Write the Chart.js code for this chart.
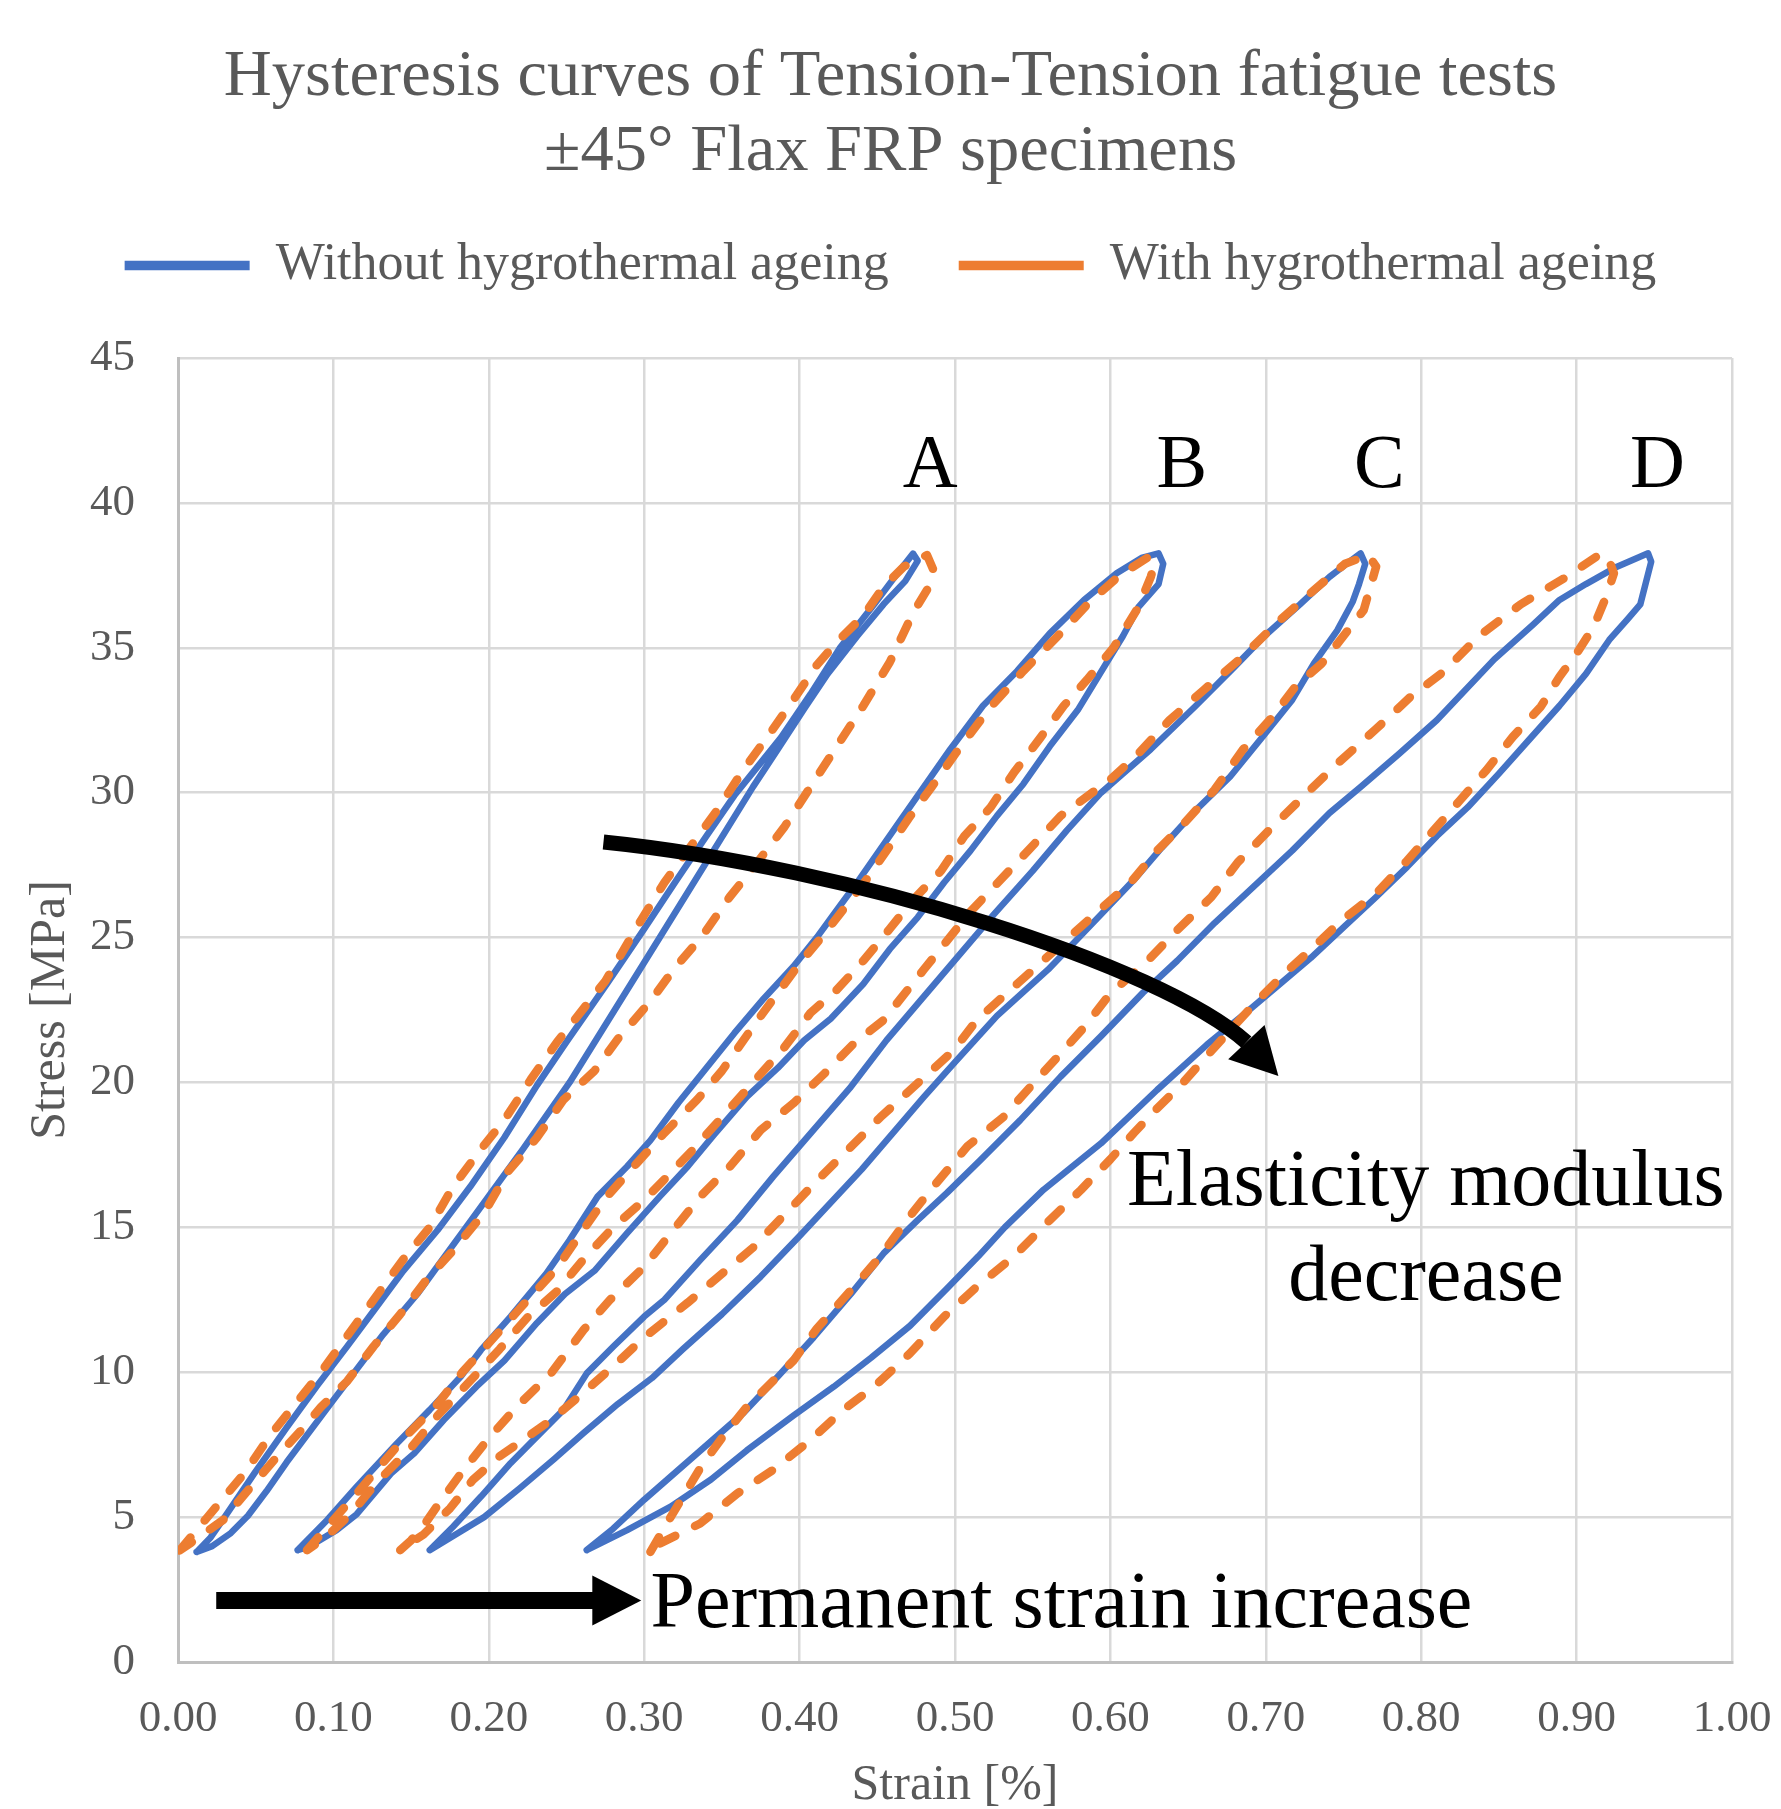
<!DOCTYPE html>
<html>
<head>
<meta charset="utf-8">
<title>Hysteresis curves of Tension-Tension fatigue tests</title>
<script src="https://cdn.jsdelivr.net/npm/chart.js@4.4.1/dist/chart.umd.min.js"></script>
<style>
  html, body { margin: 0; padding: 0; background: #ffffff; }
  canvas { display: block; }
</style>
</head>
<body>
<canvas id="hysteresisChart" width="1781" height="1809"></canvas>
<script>
// Series names (legend)
const seriesNames = ['Without hygrothermal ageing', 'With hygrothermal ageing'];

// Axis ticks
const strainTicks = [0, 0.1, 0.2, 0.3, 0.4, 0.5, 0.6, 0.7, 0.8, 0.9, 1.0];
const stressTicks = [0, 5, 10, 15, 20, 25, 30, 35, 40, 45];

// Loops: [strain %, stress MPa], bottom -> up -> peak -> back down
const withoutA = [
  [0.012,3.80],[0.021,4.30],[0.030,5.00],[0.049,6.50],[0.070,8.10],[0.089,9.50],[0.109,10.90],[0.127,12.20],
  [0.145,13.50],[0.167,14.90],[0.188,16.40],[0.210,18.10],[0.231,19.90],[0.250,21.40],[0.276,23.40],[0.300,25.30],
  [0.321,27.00],[0.340,28.50],[0.358,29.90],[0.373,30.90],[0.388,31.90],[0.407,33.40],[0.426,35.00],[0.448,36.50],
  [0.462,37.50],[0.473,38.25],
  [0.476,38.00],[0.468,37.30],[0.454,36.50],[0.437,35.40],[0.418,34.10],[0.403,32.90],[0.386,31.50],[0.370,30.20],
  [0.340,27.60],[0.310,25.00],[0.281,22.50],[0.252,20.00],[0.222,17.70],[0.188,15.20],[0.154,12.70],[0.132,11.30],
  [0.098,8.90],[0.070,6.90],[0.057,5.90],[0.045,5.05],[0.034,4.45],[0.022,4.00],[0.012,3.80]
];
const withA = [
  [0.001,3.85],[0.008,4.30],[0.019,5.00],[0.044,6.60],[0.059,7.80],[0.074,8.80],[0.092,10.00],[0.115,11.70],
  [0.145,13.90],[0.162,15.00],[0.177,16.40],[0.195,17.70],[0.210,18.70],[0.227,20.10],[0.244,21.40],[0.275,23.50],
  [0.298,25.60],[0.313,26.90],[0.332,28.30],[0.347,29.40],[0.364,30.80],[0.379,31.90],[0.396,33.20],[0.411,34.40],
  [0.424,35.20],[0.441,36.10],[0.454,37.10],[0.467,37.80],[0.482,38.20],
  [0.486,37.70],[0.482,37.00],[0.473,36.20],[0.458,34.50],[0.441,33.00],[0.424,31.60],[0.407,30.20],[0.390,28.80],
  [0.370,27.40],[0.355,26.40],[0.338,25.10],[0.319,23.90],[0.304,22.80],[0.283,21.50],[0.268,20.40],[0.248,19.40],
  [0.231,18.10],[0.212,16.90],[0.197,15.50],[0.177,14.20],[0.160,13.20],[0.143,12.00],[0.126,10.90],[0.109,9.70],
  [0.092,8.80],[0.081,8.10],[0.064,7.10],[0.047,6.05],[0.029,4.90],[0.008,4.10],[0.001,3.85]
];
const withoutB = [
  [0.077,3.86],[0.096,4.90],[0.115,6.05],[0.141,7.55],[0.162,8.70],[0.182,9.85],[0.195,10.77],[0.214,11.92],
  [0.237,13.40],[0.252,14.56],[0.270,16.06],[0.289,17.10],[0.304,18.00],[0.322,19.30],[0.340,20.50],[0.358,21.70],
  [0.377,22.90],[0.396,24.00],[0.411,25.00],[0.424,25.95],[0.437,26.90],[0.450,27.90],[0.465,29.05],
  [0.480,30.20],[0.497,31.50],[0.518,33.00],[0.540,34.20],[0.561,35.50],[0.583,36.65],[0.604,37.57],[0.620,38.10],
  [0.631,38.26],
  [0.634,37.90],[0.631,37.20],[0.618,36.40],[0.608,35.40],[0.600,34.70],[0.579,32.85],[0.561,31.60],[0.544,30.30],
  [0.527,29.20],[0.510,28.00],[0.493,26.90],[0.476,25.70],[0.458,24.60],[0.441,23.40],[0.420,22.20],[0.403,21.46],
  [0.386,20.50],[0.366,19.50],[0.345,18.20],[0.328,17.10],[0.310,16.06],[0.289,14.80],[0.268,13.50],[0.249,12.70],
  [0.231,11.70],[0.210,10.40],[0.192,9.50],[0.171,8.35],[0.152,7.20],[0.137,6.50],[0.115,5.10],[0.102,4.55],
  [0.085,4.00],[0.077,3.86]
];
const withB = [
  [0.083,3.86],[0.100,4.90],[0.118,6.00],[0.145,7.70],[0.167,8.90],[0.183,10.00],[0.200,11.00],[0.220,12.20],
  [0.244,13.60],[0.258,14.70],[0.275,16.00],[0.295,17.20],[0.312,18.20],[0.334,19.40],[0.350,20.40],[0.373,22.15],
  [0.400,24.10],[0.417,25.20],[0.430,26.10],[0.443,27.00],[0.456,28.00],[0.470,29.10],[0.485,30.20],[0.501,31.40],
  [0.522,32.90],[0.544,34.20],[0.566,35.40],[0.587,36.60],[0.606,37.50],[0.625,38.15],
  [0.628,37.80],[0.626,37.45],[0.618,36.40],[0.602,35.00],[0.585,33.90],[0.570,33.00],[0.555,31.90],[0.538,30.70],
  [0.523,29.50],[0.506,28.50],[0.491,27.30],[0.473,26.30],[0.458,25.30],[0.441,24.20],[0.424,23.20],[0.407,22.40],
  [0.390,21.20],[0.370,20.00],[0.350,18.80],[0.330,17.60],[0.312,16.60],[0.300,15.94],[0.280,15.00],[0.261,13.90],
  [0.244,12.80],[0.225,11.90],[0.207,10.80],[0.188,9.70],[0.167,8.50],[0.150,7.40],[0.128,6.20],[0.111,5.10],
  [0.095,4.30],[0.083,3.86]
];
const withoutC = [
  [0.162,3.86],[0.177,4.67],[0.195,5.71],[0.214,6.86],[0.233,7.89],[0.248,8.70],[0.263,9.96],[0.280,10.88],
  [0.300,11.92],[0.313,12.50],[0.336,13.87],[0.360,15.25],[0.383,16.75],[0.409,18.36],[0.433,19.85],[0.456,21.46],
  [0.467,22.15],[0.498,24.10],[0.525,25.80],[0.550,27.30],[0.572,28.70],[0.594,30.00],[0.626,31.50],[0.655,33.00],
  [0.680,34.35],[0.699,35.40],[0.722,36.50],[0.741,37.45],[0.752,37.90],[0.761,38.26],
  [0.764,37.90],[0.760,37.20],[0.756,36.60],[0.746,35.60],[0.731,34.46],[0.717,33.20],[0.699,32.00],[0.677,30.55],
  [0.655,29.40],[0.633,28.10],[0.617,27.10],[0.594,25.80],[0.560,23.90],[0.527,22.30],[0.500,20.70],[0.480,19.50],
  [0.440,17.00],[0.400,14.70],[0.375,13.30],[0.350,12.00],[0.325,10.80],[0.305,9.80],[0.283,8.90],[0.261,7.90],
  [0.242,7.00],[0.220,6.00],[0.197,5.00],[0.180,4.44],[0.162,3.86]
];
const withC = [
  [0.143,3.86],[0.150,4.20],[0.158,4.70],[0.167,5.40],[0.182,6.50],[0.199,7.66],[0.218,8.81],[0.240,9.96],
  [0.261,11.46],[0.278,12.50],[0.300,13.64],[0.317,14.79],[0.336,16.06],[0.355,17.09],[0.375,18.36],[0.396,19.28],
  [0.416,20.31],[0.435,21.35],[0.454,22.15],[0.480,23.90],[0.510,25.90],[0.540,27.60],[0.568,29.20],[0.601,30.50],
  [0.618,31.35],[0.638,32.50],[0.660,33.54],[0.685,34.69],[0.708,35.90],[0.731,36.99],[0.751,37.90],[0.766,38.20],
  [0.771,37.80],[0.763,36.30],[0.744,35.00],[0.736,34.46],[0.719,33.66],[0.704,32.60],[0.685,31.47],[0.667,30.10],
  [0.645,28.80],[0.630,28.00],[0.613,26.90],[0.594,26.00],[0.565,24.60],[0.540,23.40],[0.514,22.15],[0.499,21.10],
  [0.452,18.80],[0.411,16.60],[0.370,14.30],[0.328,12.40],[0.300,11.20],[0.280,10.20],[0.261,9.30],[0.240,8.35],
  [0.222,7.66],[0.207,7.10],[0.190,6.30],[0.175,5.30],[0.158,4.40],[0.143,3.86]
];
const withoutD = [
  [0.263,3.86],[0.280,4.60],[0.300,5.60],[0.332,7.10],[0.364,8.60],[0.386,9.85],[0.409,11.20],[0.433,12.70],
  [0.454,14.10],[0.476,15.25],[0.495,16.20],[0.516,17.30],[0.542,18.70],[0.568,20.20],[0.594,21.60],[0.621,23.10],
  [0.643,24.20],[0.667,25.50],[0.692,26.75],[0.717,28.00],[0.741,29.30],[0.761,30.20],[0.786,31.35],[0.810,32.50],
  [0.847,34.60],[0.872,35.80],[0.889,36.65],[0.906,37.20],[0.926,37.80],[0.946,38.26],
  [0.948,37.97],[0.941,36.50],[0.933,36.00],[0.921,35.27],[0.906,34.10],[0.889,33.00],[0.869,31.80],[0.850,30.66],
  [0.830,29.50],[0.810,28.50],[0.791,27.44],[0.771,26.40],[0.751,25.40],[0.729,24.30],[0.707,23.30],[0.687,22.40],
  [0.662,21.30],[0.630,19.74],[0.594,17.90],[0.557,16.30],[0.532,15.00],[0.515,14.00],[0.495,12.90],[0.471,11.60],
  [0.446,10.50],[0.422,9.50],[0.396,8.50],[0.366,7.30],[0.343,6.30],[0.317,5.36],[0.289,4.55],[0.263,3.86]
];
const withD = [
  [0.304,3.80],[0.317,5.00],[0.338,6.86],[0.351,7.80],[0.366,8.80],[0.396,10.40],[0.411,11.50],[0.439,13.20],
  [0.452,14.00],[0.469,15.25],[0.486,16.40],[0.508,17.80],[0.531,18.80],[0.551,20.00],[0.568,21.00],[0.583,21.90],
  [0.600,23.07],[0.624,24.20],[0.643,25.26],[0.665,26.40],[0.682,27.60],[0.702,28.70],[0.724,29.86],[0.746,31.00],
  [0.771,32.20],[0.793,33.30],[0.815,34.20],[0.837,35.40],[0.864,36.50],[0.892,37.40],[0.916,38.26],
  [0.921,38.00],[0.924,37.57],[0.919,36.76],[0.911,35.73],[0.900,34.80],[0.889,34.00],[0.877,32.97],[0.859,31.93],
  [0.842,30.78],[0.825,29.74],[0.808,28.70],[0.790,27.60],[0.771,26.52],[0.749,25.60],[0.731,24.68],[0.712,23.76],
  [0.695,22.84],[0.677,21.80],[0.661,20.85],[0.646,19.95],[0.630,19.10],[0.615,18.25],[0.600,17.35],[0.581,16.29],
  [0.561,15.25],[0.538,14.00],[0.514,12.95],[0.493,11.92],[0.471,10.65],[0.448,9.50],[0.428,8.70],[0.407,7.66],
  [0.383,6.63],[0.360,5.82],[0.336,4.78],[0.306,3.98],[0.304,3.80]
];

// Annotations, placed in data units (strain, stress)
const loopLabels = [
  { text: 'A', x: 0.484, y: 40.55 },
  { text: 'B', x: 0.646, y: 40.55 },
  { text: 'C', x: 0.773, y: 40.55 },
  { text: 'D', x: 0.952, y: 40.55 }
];
const noteLines = [
  { text: 'Elasticity modulus', x: 0.803, y: 15.77, align: 'center' },
  { text: 'decrease', x: 0.803, y: 12.49, align: 'center' },
  { text: 'Permanent strain increase', x: 0.304, y: 1.21, align: 'left' }
];
const straightArrow = { from: [0.0246, 2.12], base: [0.2666, 2.12], tip: [0.2981, 2.12] };
const curvedArrow = {
  p0: [0.2738, 28.30], p1: [0.4327, 27.43], p2: [0.6321, 24.05], p3: [0.6875, 21.39], tip: [0.7081, 20.22]
};

const SERIF = '"Liberation Serif", "Times New Roman", serif';
const GREY = '#595959';

// join loops of one series into a single line, broken by gaps
const joinLoops = (loops) => {
  const out = [];
  loops.forEach((loop, i) => {
    if (i > 0) out.push({ x: null, y: null });
    loop.forEach(([x, y]) => out.push({ x, y }));
  });
  return out;
};

// Plugin: letters, notes and black arrows
const annotatePlugin = {
  id: 'annotate',
  afterDatasetsDraw(chart) {
    const { ctx, scales: { x, y } } = chart;
    const px = ([vx, vy]) => [x.getPixelForValue(vx), y.getPixelForValue(vy)];
    const head = (base, tip, half) => {
      const dx = tip[0] - base[0], dy = tip[1] - base[1];
      const len = Math.hypot(dx, dy);
      const nx = -dy / len, ny = dx / len;
      ctx.beginPath();
      ctx.moveTo(tip[0], tip[1]);
      ctx.lineTo(base[0] + nx * half, base[1] + ny * half);
      ctx.lineTo(base[0] - nx * half, base[1] - ny * half);
      ctx.closePath();
      ctx.fill();
    };
    ctx.save();
    ctx.fillStyle = '#000';
    ctx.strokeStyle = '#000';
    ctx.textBaseline = 'alphabetic';

    ctx.font = '76px ' + SERIF;
    ctx.textAlign = 'center';
    loopLabels.forEach(l => ctx.fillText(l.text, x.getPixelForValue(l.x), y.getPixelForValue(l.y)));

    ctx.font = '80px ' + SERIF;
    noteLines.forEach(n => {
      ctx.textAlign = n.align;
      ctx.fillText(n.text, x.getPixelForValue(n.x), y.getPixelForValue(n.y));
    });

    // straight arrow
    const s0 = px(straightArrow.from), s1 = px(straightArrow.base), s2 = px(straightArrow.tip);
    ctx.lineWidth = 17;
    ctx.lineCap = 'butt';
    ctx.beginPath();
    ctx.moveTo(s0[0], s0[1]);
    ctx.lineTo(s1[0] + 2, s1[1]);
    ctx.stroke();
    head(s1, s2, 25);

    // curved arrow
    const c0 = px(curvedArrow.p0), c1 = px(curvedArrow.p1), c2 = px(curvedArrow.p2), c3 = px(curvedArrow.p3), ct = px(curvedArrow.tip);
    ctx.lineWidth = 15;
    ctx.beginPath();
    ctx.moveTo(c0[0], c0[1]);
    ctx.bezierCurveTo(c1[0], c1[1], c2[0], c2[1], c3[0], c3[1]);
    ctx.stroke();
    head(c3, ct, 25);
    ctx.restore();
  }
};

Chart.defaults.font.family = SERIF;
Chart.defaults.color = GREY;

const ctx = document.getElementById('hysteresisChart').getContext('2d');
new Chart(ctx, {
  type: 'scatter',
  data: {
    datasets: [
      {
        label: seriesNames[0],
        data: joinLoops([withoutA, withoutB, withoutC, withoutD]),
        showLine: true,
        borderColor: '#4472C4',
        backgroundColor: '#4472C4',
        borderWidth: 6.5,
        borderCapStyle: 'round',
        borderJoinStyle: 'round',
        pointRadius: 0,
        tension: 0,
        order: 1
      },
      {
        label: seriesNames[1],
        data: joinLoops([withA, withB, withC, withD]),
        showLine: true,
        borderColor: '#ED7D31',
        backgroundColor: '#ED7D31',
        borderWidth: 8.5,
        borderDash: [17, 22],
        borderCapStyle: 'round',
        borderJoinStyle: 'round',
        pointRadius: 0,
        tension: 0,
        order: 0
      }
    ]
  },
  options: {
    responsive: false,
    animation: false,
    events: [],
    devicePixelRatio: 1,
    layout: { padding: 0 },
    plugins: {
      tooltip: { enabled: false },
      title: {
        display: true,
        text: ['Hysteresis curves of Tension-Tension fatigue tests', '±45° Flax FRP specimens'],
        color: GREY,
        font: { family: SERIF, size: 66.5, weight: 'normal', lineHeight: 1.128 },
        padding: { top: 40, bottom: -20.5 }
      },
      legend: {
        display: true,
        position: 'top',
        labels: {
          usePointStyle: true,
          pointStyle: 'line',
          pointStyleWidth: 125,
          padding: 70,
          color: GREY,
          font: { family: SERIF, size: 52 },
          sort: (a, b) => a.datasetIndex - b.datasetIndex,
          generateLabels(chart) {
            const items = Chart.defaults.plugins.legend.labels.generateLabels(chart);
            items.forEach(item => {
              item.lineWidth = 9.5;
              if (item.lineDash && item.lineDash.length) item.lineDash = [27, 19];
            });
            return items;
          }
        }
      },
      // empty spacer between the legend and the plot
      subtitle: {
        display: true,
        text: '',
        weight: 500,
        padding: 0,
        font: { size: 56.5, lineHeight: 1 }
      }
    },
    scales: {
      x: {
        type: 'linear',
        min: strainTicks[0],
        max: strainTicks[strainTicks.length - 1],
        afterBuildTicks: (scale) => { scale.ticks = strainTicks.map(v => ({ value: v })); },
        afterFit: (scale) => {
          scale.height = 147;
          scale.paddingLeft = 0;
          scale.paddingRight = 49;
        },
        ticks: {
          autoSkip: false,
          maxRotation: 0,
          padding: 30,
          color: GREY,
          font: { family: SERIF, size: 45 },
          callback: (v) => Number(v).toFixed(2)
        },
        grid: { color: '#D9D9D9', lineWidth: 2.5, drawTicks: false },
        border: { display: true, color: '#BFBFBF', width: 3 },
        title: {
          display: true,
          text: 'Strain [%]',
          color: GREY,
          font: { family: SERIF, size: 50, lineHeight: 0.92 },
          padding: { top: 0, bottom: 0 }
        }
      },
      y: {
        type: 'linear',
        min: stressTicks[0],
        max: stressTicks[stressTicks.length - 1],
        afterBuildTicks: (scale) => { scale.ticks = stressTicks.map(v => ({ value: v })); },
        afterFit: (scale) => { scale.width = 178; },
        ticks: {
          padding: 43,
          color: GREY,
          font: { family: SERIF, size: 45 }
        },
        grid: { color: '#D9D9D9', lineWidth: 2.5, drawTicks: false },
        border: { display: true, color: '#BFBFBF', width: 3 },
        title: {
          display: true,
          text: 'Stress [MPa]',
          color: GREY,
          font: { family: SERIF, size: 50, lineHeight: 1.2 },
          padding: { top: 21, bottom: 0 }
        }
      }
    }
  },
  plugins: [annotatePlugin]
});
</script>
</body>
</html>
